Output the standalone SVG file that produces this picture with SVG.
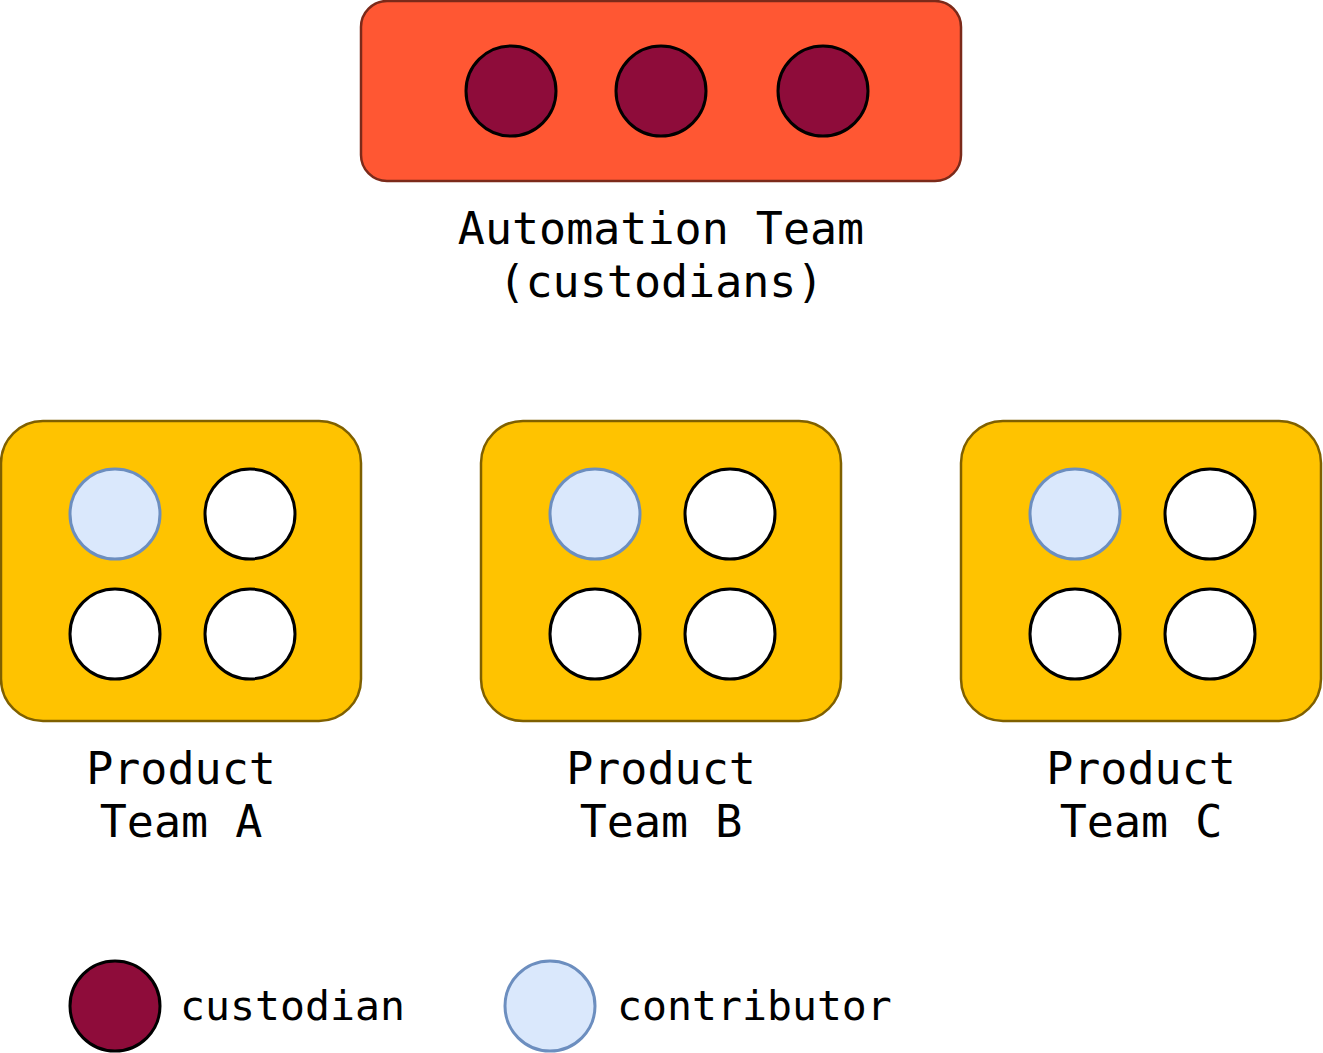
<svg xmlns="http://www.w3.org/2000/svg" width="1323" height="1053" viewBox="0 0 1323 1053">
<style>
.auto{fill:#FF5733;stroke:#7B2A1A;stroke-width:2.5}
.prod{fill:#FFC300;stroke:#7F6000;stroke-width:2.5}
.cust{fill:#8E0C3A;stroke:#000;stroke-width:3}
.contrib{fill:#DAE8FC;stroke:#6C8EBF;stroke-width:3}
.member{fill:#FFFFFF;stroke:#000;stroke-width:3}
.lbl{font-family:"DejaVu Sans Mono","Liberation Mono",monospace;font-size:45px;fill:#000;text-anchor:middle}
.leg{font-family:"DejaVu Sans Mono","Liberation Mono",monospace;font-size:41.5px;fill:#000}
</style>
<rect width="1323" height="1053" fill="#fff"/>
<g id="automation-team">
<rect class="auto" x="361" y="1" width="600" height="180" rx="26"/>
<circle class="cust" cx="511" cy="91" r="45"/>
<circle class="cust" cx="661" cy="91" r="45"/>
<circle class="cust" cx="823" cy="91" r="45"/>
<text class="lbl" x="661" y="244">Automation Team</text>
<text class="lbl" x="661" y="297">(custodians)</text>
</g>
<g id="product-team-a">
<rect class="prod" x="1" y="421" width="360" height="300" rx="42"/>
<circle class="contrib" cx="115" cy="514" r="45"/>
<circle class="member" cx="250" cy="514" r="45"/>
<circle class="member" cx="115" cy="634" r="45"/>
<circle class="member" cx="250" cy="634" r="45"/>
<text class="lbl" x="181" y="784">Product</text>
<text class="lbl" x="181" y="837">Team A</text>
</g>
<g id="product-team-b">
<rect class="prod" x="481" y="421" width="360" height="300" rx="42"/>
<circle class="contrib" cx="595" cy="514" r="45"/>
<circle class="member" cx="730" cy="514" r="45"/>
<circle class="member" cx="595" cy="634" r="45"/>
<circle class="member" cx="730" cy="634" r="45"/>
<text class="lbl" x="661" y="784">Product</text>
<text class="lbl" x="661" y="837">Team B</text>
</g>
<g id="product-team-c">
<rect class="prod" x="961" y="421" width="360" height="300" rx="42"/>
<circle class="contrib" cx="1075" cy="514" r="45"/>
<circle class="member" cx="1210" cy="514" r="45"/>
<circle class="member" cx="1075" cy="634" r="45"/>
<circle class="member" cx="1210" cy="634" r="45"/>
<text class="lbl" x="1141" y="784">Product</text>
<text class="lbl" x="1141" y="837">Team C</text>
</g>
<g id="legend-custodian">
<circle class="cust" cx="115" cy="1006" r="45"/>
<text class="leg" x="180" y="1020">custodian</text>
</g>
<g id="legend-contributor">
<circle class="contrib" cx="550" cy="1006" r="45"/>
<text class="leg" x="617" y="1020">contributor</text>
</g>
<g id="connectors"/>
</svg>
